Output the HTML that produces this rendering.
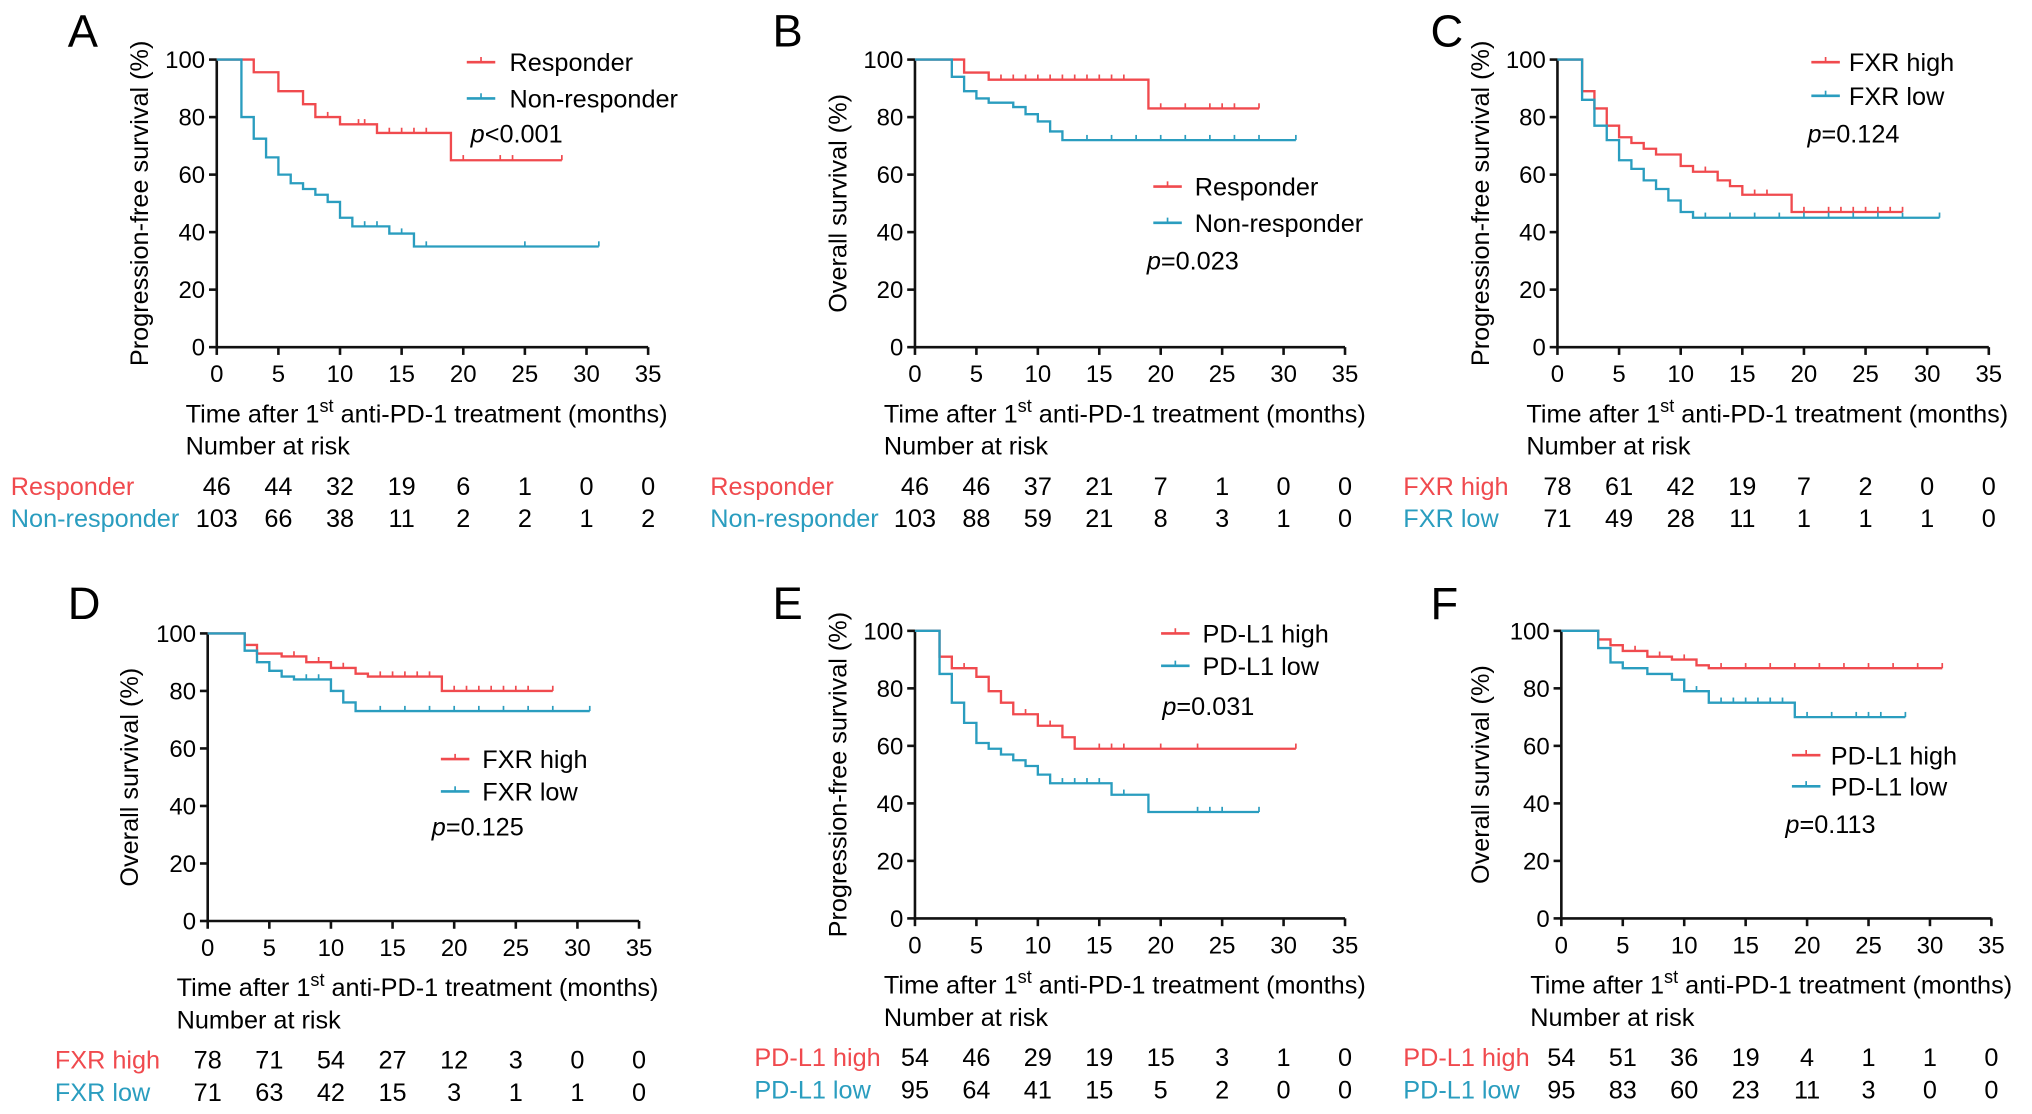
<!DOCTYPE html>
<html><head><meta charset="utf-8"><style>
html,body{margin:0;padding:0;background:#fff;}
svg{display:block;font-family:"Liberation Sans",Arial,sans-serif;}
</style></head><body>
<svg id="fig" width="2032" height="1114" viewBox="0 0 1568 860" xmlns="http://www.w3.org/2000/svg"></svg>
<script>
const RED = "#f04a4e", TEAL = "#2a9dbf";
const xTicks = [0,5,10,15,20,25,30,35];
const yTicks = [0,20,40,60,80,100];

// Panel A
const aRespT = [3,5,7,8,10,13,19], aRespS = [95.6,89,84.5,80,77.5,74.5,65], aRespEnd = 28, aRespC = [9,11.5,12,14,15,16,17,20,23,24,28];
const aNonT = [2,3,4,5,6,7,8,9,10,11,14,16], aNonS = [80,72.5,66,60,57,55,53,50.5,45,42,39.5,35], aNonEnd = 31, aNonC = [12,13,15,17,25,31];
const aRiskR = [46,44,32,19,6,1,0,0], aRiskN = [103,66,38,11,2,2,1,2];
// Panel B
const bRespT = [4,6,19], bRespS = [95.5,93,83], bRespEnd = 28, bRespC = [7,8,9,10,11,12,13,14,15,16,17,20,22,24,25,26,28];
const bNonT = [3,4,5,6,8,9,10,11,12], bNonS = [94,89,86.5,85,83.5,81,78.5,75,72], bNonEnd = 31, bNonC = [14,16,18,20,22,24,26,28,31];
const bRiskR = [46,46,37,21,7,1,0,0], bRiskN = [103,88,59,21,8,3,1,0];
// Panel C
const cHiT = [2,3,4,5,6,7,8,10,11,13,14,15,19], cHiS = [89,83,77,73,71,69,67,63,61,58,56,53,47], cHiEnd = 28, cHiC = [12,16,17,20,22,23,24,25,26,27,28];
const cLoT = [2,3,4,5,6,7,8,9,10,11], cLoS = [86,77,72,65,62,58,55,51,47,45], cLoEnd = 31, cLoC = [12,14,16,18,20,22,24,26,28,31];
const cRiskH = [78,61,42,19,7,2,0,0], cRiskL = [71,49,28,11,1,1,1,0];
// Panel D
const dHiT = [3,4,6,8,10,12,13,19], dHiS = [96,93,92,90,88,86,85,80], dHiEnd = 28, dHiC = [7,9,11,14,15,16,17,18,20,21,22,23,24,25,26,28];
const dLoT = [3,4,5,6,7,10,11,12], dLoS = [94,90,87,85,84,80,76,73], dLoEnd = 31, dLoC = [8,9,14,16,18,20,22,24,26,28,31];
const dRiskH = [78,71,54,27,12,3,0,0], dRiskL = [71,63,42,15,3,1,1,0];
// Panel E
const eHiT = [2,3,5,6,7,8,10,12,13,14], eHiS = [91,87,84,79,75,71,67,63,59,59], eHiEnd = 31, eHiC = [4,9,11,12,15,16,17,20,23,31];
const eLoT = [2,3,4,5,6,7,8,9,10,11,16,19], eLoS = [85,75,68,61,59,57,55,53,50,47,43,37], eLoEnd = 28, eLoC = [12,13,14,15,17,23,24,25,28];
const eRiskH = [54,46,29,19,15,3,1,0], eRiskL = [95,64,41,15,5,2,0,0];
// Panel F
const fHiT = [3,4,5,7,9,11,12], fHiS = [97,95,93,91,90,88,87], fHiEnd = 31, fHiC = [6,8,10,13,15,17,19,21,23,25,27,29,31];
const fLoT = [3,4,5,7,9,10,12,19], fLoS = [94,89,87,85,83,79,75,70], fLoEnd = 28, fLoC = [11,13,14,15,16,17,18,20,22,24,25,26,28];
const fRiskH = [54,51,36,19,4,1,1,0], fRiskL = [95,83,60,23,11,3,0,0];

const panels = [
 {id:"a",L:"A",lx:52,ly:36,x0:167,x1:500,y0:268,y1:46,ylab:"Progression-free survival (%)",ylx:108,
  s:[{n:"Responder",c:RED,t:aRespT,v:aRespS,e:aRespEnd,cs:aRespC,r:aRiskR},{n:"Non-responder",c:TEAL,t:aNonT,v:aNonS,e:aNonEnd,cs:aNonC,r:aRiskN}],
  leg:[360,393,48,76],p:[363,110,"<0.001"],rl:8},
 {id:"b",L:"B",lx:596,ly:36,x0:706,x1:1038,y0:268,y1:46,ylab:"Overall survival (%)",ylx:647,
  s:[{n:"Responder",c:RED,t:bRespT,v:bRespS,e:bRespEnd,cs:bRespC,r:bRiskR},{n:"Non-responder",c:TEAL,t:bNonT,v:bNonS,e:bNonEnd,cs:bNonC,r:bRiskN}],
  leg:[890,922,144,172],p:[885,208,"=0.023"],rl:548},
 {id:"c",L:"C",lx:1104,ly:36,x0:1202,x1:1535,y0:268,y1:46,ylab:"Progression-free survival (%)",ylx:1143,
  s:[{n:"FXR high",c:RED,t:cHiT,v:cHiS,e:cHiEnd,cs:cHiC,r:cRiskH},{n:"FXR low",c:TEAL,t:cLoT,v:cLoS,e:cLoEnd,cs:cLoC,r:cRiskL}],
  leg:[1398,1427,48,74],p:[1395,110,"=0.124"],rl:1083},
 {id:"d",L:"D",lx:52,ly:478,x0:160,x1:493,y0:711,y1:489,ylab:"Overall survival (%)",ylx:100,
  s:[{n:"FXR high",c:RED,t:dHiT,v:dHiS,e:dHiEnd,cs:dHiC,r:dRiskH},{n:"FXR low",c:TEAL,t:dLoT,v:dLoS,e:dLoEnd,cs:dLoC,r:dRiskL}],
  leg:[340,372,586,611],p:[333,645,"=0.125"],rl:42},
 {id:"e",L:"E",lx:596,ly:478,x0:706,x1:1038,y0:709,y1:487,ylab:"Progression-free survival (%)",ylx:647,
  s:[{n:"PD-L1 high",c:RED,t:eHiT,v:eHiS,e:eHiEnd,cs:eHiC,r:eRiskH},{n:"PD-L1 low",c:TEAL,t:eLoT,v:eLoS,e:eLoEnd,cs:eLoC,r:eRiskL}],
  leg:[896,928,489,514],p:[897,552,"=0.031"],rl:582},
 {id:"f",L:"F",lx:1104,ly:478,x0:1205,x1:1537,y0:709,y1:487,ylab:"Overall survival (%)",ylx:1143,
  s:[{n:"PD-L1 high",c:RED,t:fHiT,v:fHiS,e:fHiEnd,cs:fHiC,r:fRiskH},{n:"PD-L1 low",c:TEAL,t:fLoT,v:fLoS,e:fLoEnd,cs:fLoC,r:fRiskL}],
  leg:[1383,1413,583,607],p:[1378,643,"=0.113"],rl:1083}
];

const FS = 19.5, TFS = 18.5;
const svg = document.getElementById("fig");
const NS = "http://www.w3.org/2000/svg";
function mk(tag, attrs, parent, text){
  const e = document.createElementNS(NS, tag);
  for (const k in attrs) e.setAttribute(k, attrs[k]);
  if (text !== undefined) e.textContent = text;
  parent.appendChild(e);
  return e;
}
function survAt(s, t){
  let v = 100;
  for (let i=0;i<s.t.length;i++){ if (s.t[i] <= t) v = s.v[i]; }
  return v;
}
panels.forEach(P=>{
  const g = mk("g",{},svg);
  
  
  const X = t => P.x0 + (P.x1-P.x0)*t/35;
  const Y = v => P.y0 - (P.y0-P.y1)*v/100;
  const lt = mk("text",{x:P.lx,y:P.ly,"font-size":35},g,P.L);
  
  
  const ax = mk("path",{d:`M${P.x0} ${P.y1}V${P.y0}H${P.x1}`,stroke:"#111",fill:"none","stroke-width":2},g);
  
  
  yTicks.forEach(v=>{
    mk("line",{x1:P.x0-6,x2:P.x0,y1:Y(v),y2:Y(v),stroke:"#111","stroke-width":2},g);
    const tt = mk("text",{x:P.x0-9,y:Y(v)+6.5,"font-size":TFS,"text-anchor":"end"},g,String(v));
    
    
  });
  xTicks.forEach(t=>{
    mk("line",{x1:X(t),x2:X(t),y1:P.y0,y2:P.y0+6,stroke:"#111","stroke-width":2},g);
    const tt = mk("text",{x:X(t),y:P.y0+27,"font-size":TFS,"text-anchor":"middle"},g,String(t));
    
    
  });
  const yl = mk("text",{transform:`translate(${P.ylx+6},${(P.y0+P.y1)/2}) rotate(-90)`,"font-size":FS,"text-anchor":"middle"},g,P.ylab);
  
  
  const xl = mk("text",{x:P.x0-24,y:P.y0+58,"font-size":FS},g);
  
  
  mk("tspan",{},xl,"Time after 1");
  mk("tspan",{dy:-8,"font-size":14},xl,"st");
  mk("tspan",{dy:8},xl," anti-PD-1 treatment (months)");
  const nr = mk("text",{x:P.x0-24,y:P.y0+83,"font-size":FS},g,"Number at risk");
  
  
  P.s.forEach((s,si)=>{
    let d = `M${X(0)} ${Y(100)}`;
    for (let i=0;i<s.t.length;i++){ d += `H${X(s.t[i])}V${Y(s.v[i])}`; }
    d += `H${X(s.e)}`;
    const ln = mk("path",{d:d,stroke:s.c,fill:"none","stroke-width":1.8},g);
    
    
    s.cs.forEach(c=>{
      const yy = Y(survAt(s,c));
      const cm = mk("line",{x1:X(c),x2:X(c),y1:yy-4,y2:yy,stroke:s.c,"stroke-width":1.3},g);
      
      
    });
    const ly = si===0 ? P.leg[2] : P.leg[3];
    const lg = mk("g",{},g);
    
    
    mk("line",{x1:P.leg[0],x2:P.leg[0]+22,y1:ly,y2:ly,stroke:s.c,"stroke-width":2},lg);
    mk("line",{x1:P.leg[0]+11,x2:P.leg[0]+11,y1:ly-4,y2:ly,stroke:s.c,"stroke-width":1.3},lg);
    mk("text",{x:P.leg[1],y:ly+7,"font-size":FS},lg,s.n);
    const ry = P.y0 + (si===0?114:139);
    const rl = mk("text",{x:P.rl,y:ry,"font-size":FS,fill:s.c},g,s.n);
    
    
    s.r.forEach((n,i)=>{
      const rt = mk("text",{x:X(xTicks[i]),y:ry,"font-size":FS,"text-anchor":"middle"},g,String(n));
      
      
    });
  });
  const pt = mk("text",{x:P.p[0],y:P.p[1],"font-size":FS},g);
  
  
  mk("tspan",{"font-style":"italic"},pt,"p");
  mk("tspan",{},pt,P.p[2]);
});
</script>
</body></html>
